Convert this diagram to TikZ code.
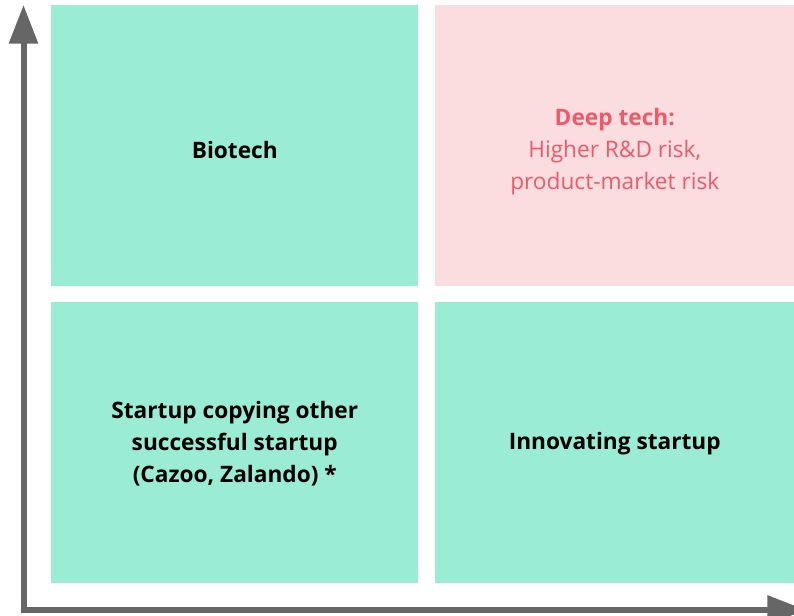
\documentclass[tikz,border=0pt]{standalone}
\usepackage{fontspec}
\setmainfont{Open Sans}
\usetikzlibrary{arrows.meta}
\definecolor{cellgreen}{HTML}{9AEDD4}
\definecolor{cellpink}{HTML}{FBDDDF}
\definecolor{deepred}{HTML}{EE5A6A}
\definecolor{axisgray}{HTML}{666666}
\tikzset{
  cell/.style={draw=none, minimum width=#1, minimum height=210.75pt, inner sep=0pt, anchor=north west, align=center, font=\fontsize{17}{24}\selectfont},
  axis/.style={draw=axisgray, line width=4.5pt, -{Triangle[width=21pt,length=29pt]}, color=axisgray},
}
\begin{document}
\begin{tikzpicture}[x=0.75pt,y=-0.75pt]
\useasboundingbox (0,0) rectangle (794,616);
\node[cell=275.25pt, fill=cellgreen] (tl) at (51,5) {};
\node[cell=269.25pt, fill=cellpink] (tr) at (435,5) {};
\node[cell=275.25pt, fill=cellgreen] (bl) at (51,302) {};
\node[cell=269.25pt, fill=cellgreen] (br) at (435,302) {};
\node[cell=275.25pt, anchor=center, minimum height=0pt] (tltext) at ([yshift=-3pt]tl.center) {\textbf{Biotech}};
\node[cell=269.25pt, anchor=center, minimum height=0pt, text=deepred] (trtext) at ([yshift=-4.5pt]tr.center) {\textbf{Deep tech:}\\Higher R\&D risk,\\product-market risk};
\node[cell=275.25pt, anchor=center, minimum height=0pt] (bltext) at ([yshift=-1pt]bl.center) {\textbf{Startup copying other}\\\textbf{successful startup}\\\textbf{(Cazoo, Zalando) *}};
\node[cell=269.25pt, anchor=center, minimum height=0pt] (brtext) at ([yshift=-1pt]br.center) {\textbf{Innovating startup}};
\coordinate (ytail) at (23.5,613);
\coordinate (ytip) at (23.5,5);
\coordinate (xtail) at (20.5,610);
\coordinate (xtip) at (806,610);
\draw[axis] (ytail) -- (ytip);
\draw[axis] (xtail) -- (xtip);
\end{tikzpicture}
\end{document}
